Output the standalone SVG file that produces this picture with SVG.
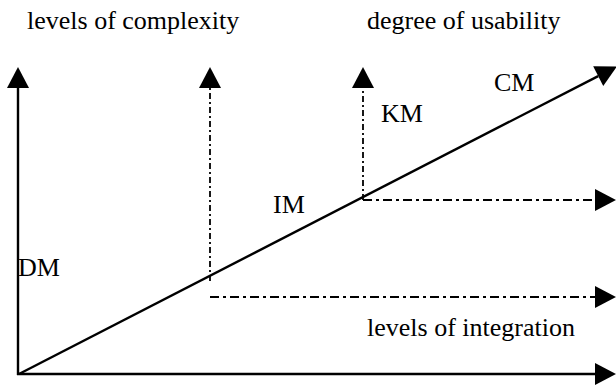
<svg xmlns="http://www.w3.org/2000/svg" width="616" height="385" viewBox="0 0 616 385">
<style>
text{font-family:"Liberation Serif","Times New Roman",serif;font-size:26px;fill:#000}
.solid{stroke:#000;stroke-width:2.4;fill:none}
.dv{stroke:#000;stroke-width:1.8;fill:none;stroke-dasharray:6 3 2 3}
.dh{stroke:#000;stroke-width:1.8;fill:none;stroke-dasharray:9 4 3 4}
</style>
<defs>
<marker id="ah" markerUnits="userSpaceOnUse" markerWidth="22" markerHeight="22" refX="0" refY="11" orient="auto" overflow="visible">
<path d="M0,0 L21,11 L0,22 Z" fill="#000"/>
</marker>
</defs>
<g id="connectors">
<line class="solid" x1="18" y1="375" x2="18" y2="88" marker-end="url(#ah)"/>
<line class="solid" x1="17" y1="374" x2="595" y2="374" marker-end="url(#ah)"/>
<line class="solid" x1="19" y1="374" x2="598.2" y2="76.1" marker-end="url(#ah)"/>
<line class="dv" x1="210" y1="281" x2="210" y2="88" marker-end="url(#ah)"/>
<line class="dv" x1="363" y1="200" x2="363" y2="88" marker-end="url(#ah)"/>
<line class="dh" x1="210" y1="297" x2="595" y2="297" marker-end="url(#ah)"/>
<line class="dh" x1="363" y1="200" x2="595" y2="200" marker-end="url(#ah)"/>
</g>
<g id="label-complexity"><text x="27" y="29">levels of complexity</text></g>
<g id="label-usability"><text x="367" y="29">degree of usability</text></g>
<g id="node-CM"><text x="494" y="91">CM</text></g>
<g id="node-KM"><text x="381" y="122">KM</text></g>
<g id="node-IM"><text x="273" y="213">IM</text></g>
<g id="node-DM"><text x="18" y="276">DM</text></g>
<g id="label-integration"><text x="367" y="336">levels of integration</text></g>
</svg>
